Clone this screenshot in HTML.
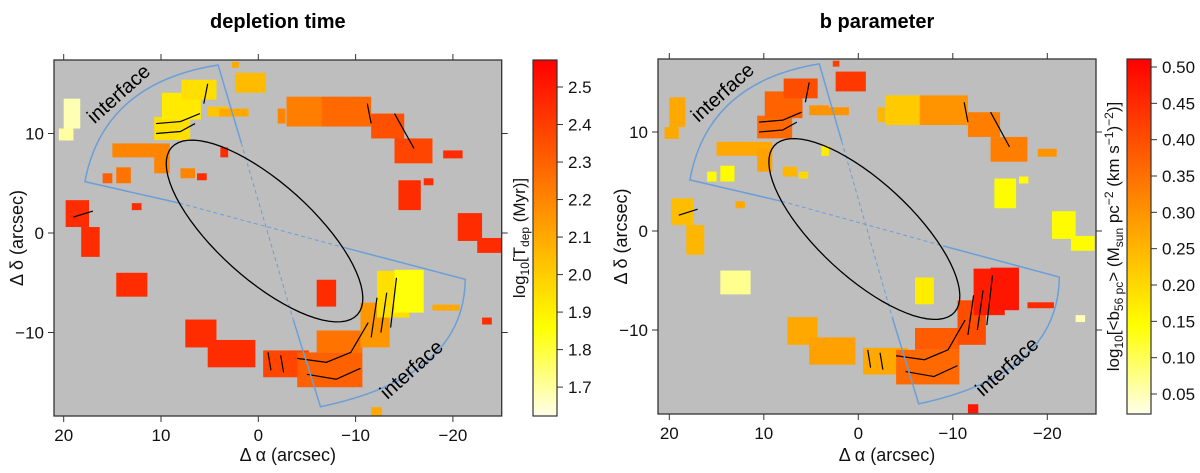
<!DOCTYPE html>
<html><head><meta charset="utf-8"><style>
body{margin:0;background:#fff;width:1200px;height:468px;overflow:hidden}
svg{font-family:"Liberation Sans",Arial,sans-serif}
</style></head><body>
<svg id="chart" width="1200" height="468" xmlns="http://www.w3.org/2000/svg"></svg>
<script>
// patch extents in arcsec: [raLeft, raRight, decTop, decBottom]
const patches = [
[20.0,18.3,13.5,10.5],[20.5,19.0,10.5,9.3],
[10.7,7.0,11.65,9.35],[9.9,5.9,14.1,11.4],[7.9,4.3,15.4,13.4],[5.2,3.1,12.7,11.7],
[2.4,-0.8,16.1,14.1],[2.7,2.0,17.2,16.6],
[-2.9,-6.5,13.7,10.7],[-6.5,-11.6,13.7,10.7],[-11.6,-15,12,9.5],[-14,-17.9,9.5,7],
[15,9.1,9,7.6],[14.6,13.1,6.6,5],[10.7,9.1,8.3,6],
[19.8,17.4,3.3,0.6],[18.2,16.3,0.6,-2.4],
[14.6,11.4,-4.0,-6.4],
[7.5,4.3,-8.7,-11.5],[5.2,0.3,-10.75,-13.5],
[-0.5,-5.2,-11.8,-14.5],[-4,-10.7,-12,-15.5],[-6,-10.7,-9.8,-12],
[-10.5,-13.5,-7,-11.5],[-12.2,-15.5,-3.8,-8.5],[-14,-17,-3.7,-8.0],
[-17.9,-20.7,-7.2,-7.8],
[-20.5,-23,2,-0.8],[-22.5,-25,-0.5,-2],
[-6,-8,-4.7,-7.4],[3.9,3.1,8.6,7.6],[6.3,5.3,6,5.3],
[-11.6,-12.7,-17.5,-18.4],[-14.4,-16.7,5.3,2.3],[8,6.5,6.5,5.5],
[-19,-21,8.3,7.5],[-17,-18,5.5,4.8],[16,15,6,5],[13,12,3,2.3],[-23,-24,-8.5,-9.2],[-2,-2.8,12.5,11],[4,1,12.5,11.7]
];
const tdepValues = [1.68,1.70,1.95,1.92,1.95,2.02,2.05,2.1,2.22,2.28,2.35,2.38,2.2,2.25,2.2,2.45,2.45,2.45,2.45,2.45,2.38,2.3,2.25,2.15,1.95,1.85,2.1,2.45,2.45,2.45,2.45,2.45,2.1,2.45,2.2,2.45,2.45,2.3,2.45,2.45,2.2,2.1];
const bValues = [0.27,0.27,0.36,0.37,0.40,0.30,0.43,0.42,0.22,0.30,0.33,0.33,0.27,0.15,0.28,0.24,0.25,0.07,0.27,0.28,0.27,0.36,0.38,0.40,0.47,0.48,0.45,0.15,0.15,0.17,0.17,0.2,0.48,0.15,0.25,0.3,0.15,0.15,0.27,0.05,0.25,0.3];
const xTicks = [20,10,0,-10,-20];
const yTicks = [10,0,-10];
const tdepTicks = [1.7,1.8,1.9,2.0,2.1,2.2,2.3,2.4,2.5];
const bTicks = [0.05,0.10,0.15,0.20,0.25,0.30,0.35,0.40,0.45,0.50];
// contour strokes (arcsec)
const contours = [
[[-4,-12.6],[-7,-13.0],[-9.5,-12],[-11.3,-9]],
[[-5,-14.2],[-8,-14.7],[-10.5,-13.6]],
[[-11.6,-10.5],[-12.2,-6.5]],[[-12.6,-10],[-13.2,-6]],[[-13.6,-9.5],[-14.2,-4.5]],
[[-1,-12],[-1.3,-13.8]],[[-2.3,-12.3],[-2.6,-14]],
[[10.5,11],[8,11.2],[6,12]],[[10.5,10],[8,10.2],[6.5,11]],[[5.2,15],[5.6,13]],
[[-11.2,13],[-11.6,11]],[[-14,12],[-16,8.5]],[[19,1.6],[17,2.2]]
];
// interface sectors / ellipse geometry (arcsec)
const sectorP = [[17.82,5.16],[4.13,16.88],[-21.27,-4.65],[-6.39,-17.46]];
const sectorC = [[15.93,15.05],[-21.17,-14.47]];
const cross = [[8.1,3.0],[-8.97,-1.5],[1.75,9.05],[-3.6,-8.74]];

const NS="http://www.w3.org/2000/svg";
const svg=document.getElementById('chart');
function mk(tag,attrs,parent){const e=document.createElementNS(NS,tag);for(const k in attrs)e.setAttribute(k,attrs[k]);(parent||svg).appendChild(e);return e;}
function heat(t){t=Math.max(0,Math.min(1,t));let r=255,g,b;
 if(t>=0.25){g=255*(1-t)/0.75;b=0;}else{g=255;b=235*(0.25-t)/0.25;}
 return `rgb(${r},${Math.round(g)},${Math.round(b)})`;}

function panel(cfg){
 const X=a=>cfg.x0-cfg.sx*a, Y=d=>cfg.y0-cfg.sy*d;
 const g=mk('g',{});
 
 
 const cid='clip'+cfg.name;
 const cp=mk('clipPath',{id:cid},g);mk('rect',{x:cfg.L,y:cfg.T,width:cfg.R-cfg.L,height:cfg.B-cfg.T},cp);
 const bg=mk('rect',{x:cfg.L,y:cfg.T,width:cfg.R-cfg.L,height:cfg.B-cfg.T,fill:'#bebebe'},g);
 
 
 const mg=mk('g',{'clip-path':`url(#${cid})`},g);
 patches.forEach((p,i)=>{
  const v=cfg.vals[i];const t=(v-cfg.vmin)/(cfg.vmax-cfg.vmin);
  const r=mk('rect',{x:X(p[0]),y:Y(p[2]),width:X(p[1])-X(p[0]),height:Y(p[3])-Y(p[2]),fill:heat(t)},mg);
  
  
 });
 contours.forEach(c=>{
  const l=mk('polyline',{points:c.map(q=>X(q[0])+','+Y(q[1])).join(' '),fill:'none',stroke:'#000','stroke-width':1.2},mg);
  
  
 });
 const P=sectorP.map(q=>[X(q[0]),Y(q[1])]), C=sectorC.map(q=>[X(q[0]),Y(q[1])]), K=cross.map(q=>[X(q[0]),Y(q[1])]);
 const blue='#6a9fd8';
 const s1=mk('path',{d:`M${K[0]} L${P[0]} Q${C[0]} ${P[1]} L${K[2]}`,fill:'none',stroke:blue,'stroke-width':1.5},mg);
 
 
 const s2=mk('path',{d:`M${K[1]} L${P[2]} Q${C[1]} ${P[3]} L${K[3]}`,fill:'none',stroke:blue,'stroke-width':1.5},mg);
 
 
 const dl=mk('path',{d:`M${K[0]} L${K[1]} M${K[2]} L${K[3]}`,fill:'none',stroke:blue,'stroke-width':1,'stroke-dasharray':'4,3'},mg);
 
 
 let pts=[];for(let k=0;k<=72;k++){const t=k/72*2*Math.PI;const a=-0.64-9.55*Math.cos(t)+3.3*Math.sin(t);const d=0.2-8.4*Math.cos(t)-3.59*Math.sin(t);pts.push(X(a)+','+Y(d));}
 const el=mk('polyline',{points:pts.join(' '),fill:'none',stroke:'#000','stroke-width':1.3},mg);
 
 
 const it1=mk('text',{x:X(13.9),y:Y(13.5),'font-size':20,fill:'#000','text-anchor':'middle',transform:`rotate(-42 ${X(13.9)} ${Y(13.5)})`},g);
 it1.textContent='interface';
 
 
 const it2=mk('text',{x:X(-16.2),y:Y(-14.2),'font-size':20,fill:'#000','text-anchor':'middle',transform:`rotate(-42 ${X(-16.2)} ${Y(-14.2)})`},g);
 it2.textContent='interface';
 
 
 const fr=mk('rect',{x:cfg.L,y:cfg.T,width:cfg.R-cfg.L,height:cfg.B-cfg.T,fill:'none',stroke:'#333','stroke-width':1.3},g);
 
 
 xTicks.forEach(v=>{const x=X(v);
  mk('line',{x1:x,x2:x,y1:cfg.B,y2:cfg.B+6,stroke:'#333'},g);
  mk('line',{x1:x,x2:x,y1:cfg.T,y2:cfg.T-6,stroke:'#333'},g);
  const t=mk('text',{x:x,y:cfg.B+25,'font-size':17,'text-anchor':'middle',fill:'#111'},g);
  t.textContent=v<0?'\u2212'+(-v):String(v);
  
  });
 yTicks.forEach(v=>{const y=Y(v);
  mk('line',{x1:cfg.L,x2:cfg.L-6,y1:y,y2:y,stroke:'#333'},g);
  mk('line',{x1:cfg.R,x2:cfg.R+6,y1:y,y2:y,stroke:'#333'},g);
  const t=mk('text',{x:cfg.L-10,y:y+6,'font-size':17,'text-anchor':'end',fill:'#111'},g);
  t.textContent=v<0?'\u2212'+(-v):String(v);
  
  });
 const xt=mk('text',{x:(cfg.L+cfg.R)/2+10,y:461,'font-size':18,'text-anchor':'middle',fill:'#111'},g);
 xt.textContent='\u0394 \u03b1 (arcsec)';
 
 
 const yx=cfg.L-31, yy=(cfg.T+cfg.B)/2;
 const yt=mk('text',{x:yx,y:yy,'font-size':18,'text-anchor':'middle',fill:'#111',transform:`rotate(-90 ${yx} ${yy})`},g);
 yt.textContent='\u0394 \u03b4 (arcsec)';
 
 
 const ti=mk('text',{x:(cfg.L+cfg.R)/2,y:28,'font-size':20,'font-weight':'bold','text-anchor':'middle',fill:'#000'},g);
 ti.textContent=cfg.title;
 
 
 const CB=cfg.cb; const gid='grad'+cfg.name;
 const lg=mk('linearGradient',{id:gid,x1:0,y1:1,x2:0,y2:0},g);
 for(let k=0;k<=20;k++)mk('stop',{offset:k/20,'stop-color':heat(k/20)},lg);
 const cr=mk('rect',{x:CB.L,y:cfg.T,width:CB.W,height:cfg.B-cfg.T,fill:`url(#${gid})`,stroke:'#333','stroke-width':1.2},g);
 
 
 const CY=v=>cfg.B-(v-cfg.vmin)/(cfg.vmax-cfg.vmin)*(cfg.B-cfg.T);
 cfg.ticks.forEach(v=>{const y=CY(v);
  mk('line',{x1:CB.L+CB.W,x2:CB.L+CB.W+6,y1:y,y2:y,stroke:'#333'},g);
  const t=mk('text',{x:CB.L+CB.W+11,y:y+6,'font-size':17,fill:'#111'},g);
  t.textContent=v.toFixed(cfg.dec);
  
  });
 const lx=CB.L-8, ly=(cfg.T+cfg.B)/2;
 const ct=mk('text',{x:lx,y:ly,'font-size':17,'text-anchor':'middle',fill:'#111',transform:`rotate(-90 ${lx} ${ly})`},g);
 ct.innerHTML=cfg.label;
 
 
}
panel({name:'depletion-panel',title:'depletion time',x0:258.3,sx:9.73,y0:233,sy:9.95,L:54,R:501.7,T:60,B:416,
 vals:tdepValues,vmin:1.623,vmax:2.572,ticks:tdepTicks,dec:1,cb:{L:533,W:24},
 label:'log<tspan font-size="12" dy="4">10</tspan><tspan dy="-4">[T</tspan><tspan font-size="12" dy="4">dep</tspan><tspan dy="-4"> (Myr)]</tspan>'});
panel({name:'b-parameter-panel',title:'b parameter',x0:858.3,sx:9.45,y0:231,sy:9.9,L:658,R:1096,T:59,B:414,
 vals:bValues,vmin:0.0225,vmax:0.511,ticks:bTicks,dec:2,cb:{L:1127,W:24},
 label:'log<tspan font-size="12" dy="4">10</tspan><tspan dy="-4">[&lt;b</tspan><tspan font-size="12" dy="4">56 pc</tspan><tspan dy="-4">&gt; (M</tspan><tspan font-size="12" dy="4">sun</tspan><tspan dy="-4"> pc</tspan><tspan font-size="12" dy="-6">\u22122</tspan><tspan dy="6"> (km s</tspan><tspan font-size="12" dy="-6">\u22121</tspan><tspan dy="6">)</tspan><tspan font-size="12" dy="-6">\u22122</tspan><tspan dy="6">)]</tspan>'});
</script>
</body></html>
